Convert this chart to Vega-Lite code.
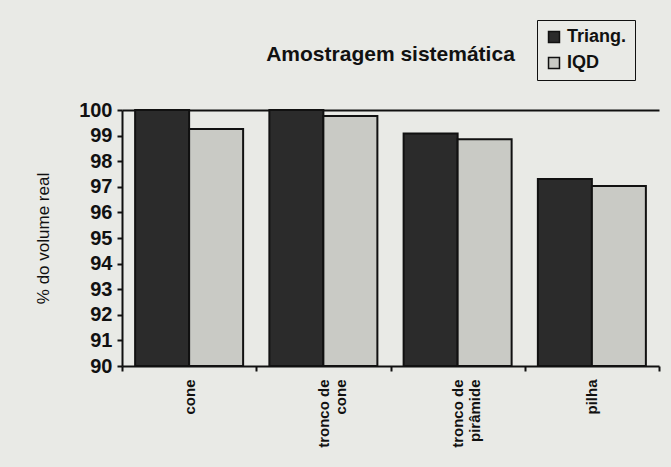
{
  "$schema": "https://vega.github.io/schema/vega-lite/v6.json",
  "width": 537,
  "height": 256,
  "autosize": "none",
  "padding": {"left": 122, "top": 110, "right": 12, "bottom": 101},
  "background": "#e9eae6",
  "title": {
    "text": "Amostragem sistemática",
    "fontSize": 21,
    "fontWeight": "bold",
    "font": "Liberation Sans",
    "color": "#111",
    "anchor": "middle",
    "offset": 0,
    "dy": 45
  },
  "data": {
    "values": [
      {"forma": "cone", "metodo": "Triang.", "valor": 100},
      {"forma": "cone", "metodo": "IQD", "valor": 99.26},
      {"forma": "tronco de cone", "metodo": "Triang.", "valor": 100},
      {"forma": "tronco de cone", "metodo": "IQD", "valor": 99.77},
      {"forma": "tronco de pirâmide", "metodo": "Triang.", "valor": 99.08},
      {"forma": "tronco de pirâmide", "metodo": "IQD", "valor": 98.86},
      {"forma": "pilha", "metodo": "Triang.", "valor": 97.3},
      {"forma": "pilha", "metodo": "IQD", "valor": 97.03}
    ]
  },
  "mark": {"type": "bar", "stroke": "#111", "strokeWidth": 2},
  "encoding": {
    "x": {
      "field": "forma",
      "type": "nominal",
      "sort": ["cone", "tronco de cone", "tronco de pirâmide", "pilha"],
      "scale": {"paddingInner": 0, "paddingOuter": 0},
      "axis": {
        "title": null,
        "labelAngle": -90,
        "labelExpr": "datum.value == 'tronco de cone' ? ['tronco de', 'cone'] : datum.value == 'tronco de pirâmide' ? ['tronco de', 'pirâmide'] : datum.value",
        "labelFont": "Liberation Sans",
        "labelFontSize": 15,
        "labelFontWeight": "bold",
        "labelColor": "#111",
        "labelLineHeight": 17,
        "labelPadding": 8,
        "domainColor": "#111",
        "domainWidth": 2,
        "tickBand": "extent",
        "tickColor": "#111",
        "tickWidth": 2,
        "tickSize": 5
      }
    },
    "xOffset": {
      "field": "metodo",
      "type": "nominal",
      "sort": ["Triang.", "IQD"],
      "scale": {"paddingInner": 0, "paddingOuter": 0.243}
    },
    "y": {
      "field": "valor",
      "type": "quantitative",
      "scale": {"domain": [90, 100], "zero": false, "nice": false},
      "axis": {
        "title": "% do volume real",
        "titleFont": "Liberation Sans",
        "titleFontSize": 17,
        "titleFontWeight": "normal",
        "titleColor": "#111",
        "titlePadding": 26,
        "values": [90, 91, 92, 93, 94, 95, 96, 97, 98, 99, 100],
        "labelOverlap": false,
        "labelFont": "Liberation Sans",
        "labelFontSize": 20,
        "labelFontWeight": "bold",
        "labelColor": "#111",
        "labelPadding": 5,
        "domainColor": "#111",
        "domainWidth": 2,
        "tickColor": "#111",
        "tickWidth": 2,
        "tickSize": 5,
        "grid": true,
        "gridColor": "#111",
        "gridWidth": 2,
        "gridOpacity": {"condition": {"test": "datum.value == 100", "value": 1}, "value": 0}
      }
    },
    "y2": {"datum": 90},
    "color": {
      "field": "metodo",
      "type": "nominal",
      "sort": ["Triang.", "IQD"],
      "scale": {"domain": ["Triang.", "IQD"], "range": ["#2b2b2b", "#c9cac5"]},
      "legend": {
        "title": null,
        "orient": "none",
        "legendX": 415,
        "legendY": -90,
        "strokeColor": "#111",
        "padding": 8,
        "symbolType": "square",
        "symbolSize": 120,
        "symbolStrokeColor": "#111",
        "symbolStrokeWidth": 1.5,
        "labelFont": "Liberation Sans",
        "labelFontSize": 18,
        "labelFontWeight": "bold",
        "labelColor": "#111",
        "rowPadding": 8
      }
    }
  },
  "config": {"view": {"stroke": null}}
}
